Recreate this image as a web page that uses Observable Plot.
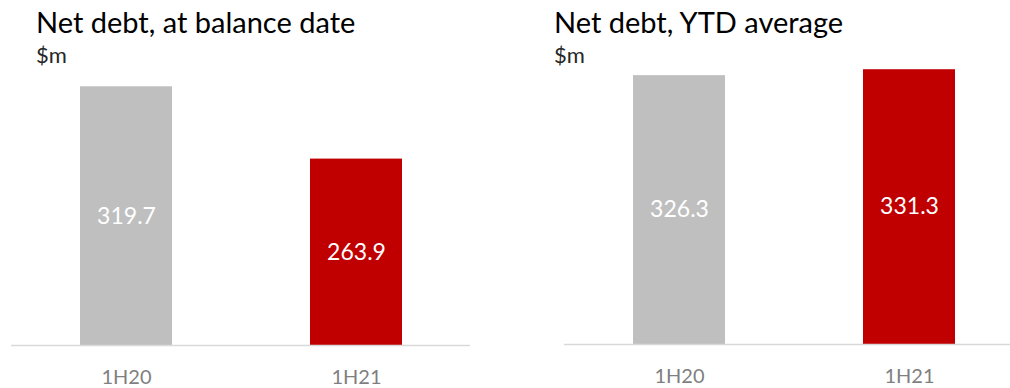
<!DOCTYPE html>
<html><head><meta charset="utf-8">
<script src="https://cdn.jsdelivr.net/npm/d3@7"></script>
<script src="https://cdn.jsdelivr.net/npm/@observablehq/plot@0.6"></script>
<style>
body{margin:0;width:1010px;height:388px;overflow:hidden;position:relative;background:#fff;font-family:Lato,sans-serif}
.panel{position:absolute;top:0;width:505px;height:388px}
.panel svg{max-width:none}
.title{position:absolute;font-size:29px;line-height:1;color:#000;white-space:nowrap}
.unit{position:absolute;font-size:22px;line-height:1;color:#262626;white-space:nowrap}
</style></head><body>
<div id="left" class="panel" style="left:0px"></div>
<div id="right" class="panel" style="left:553px"></div>
<div class="title" style="left:36px;top:7px">Net debt, at balance date</div>
<div class="unit" style="left:36px;top:44px">$m</div>
<div class="title" style="left:554px;top:7px">Net debt, YTD average</div>
<div class="unit" style="left:554px;top:44px">$m</div>
<script>
const periods = ["1H20", "1H21"];
const balanceDate = [319.7, 263.9];
const ytdAverage = [326.3, 331.3];
const barColors = ["#bfbfbf", "#c00000"];

function panel(values, yMin, yMax, marginTop, marginBottom) {
  const data = periods.map((p, i) => ({period: p, value: values[i], color: barColors[i]}));
  return Plot.plot({
    width: 505,
    height: 388,
    marginLeft: 11,
    marginRight: 35,
    marginTop,
    marginBottom,
    style: {fontFamily: "Lato, sans-serif", background: "transparent", overflow: "visible", maxWidth: "none"},
    x: {domain: periods, paddingInner: 0.6, paddingOuter: 0.296, label: null},
    y: {domain: [yMin, yMax], axis: null},
    marks: [
      Plot.barY(data, {x: "period", y1: yMin, y2: "value", fill: "color"}),
      Plot.ruleY([yMin], {stroke: "#d9d9d9", strokeWidth: 1.5}),
      Plot.text(data, {x: "period", y: d => (yMin + d.value) / 2, text: d => d.value.toFixed(1), fill: "white", fontSize: 23}),
      Plot.axisX({tickSize: 0, tickPadding: 24, fontSize: 20, color: "#7f7f7f", label: null})
    ]
  });
}

document.getElementById("left").appendChild(panel(balanceDate, 120, 340, 60, 43));
document.getElementById("right").appendChild(panel(ytdAverage, 100, 350, 47, 44));
</script>
</body></html>
